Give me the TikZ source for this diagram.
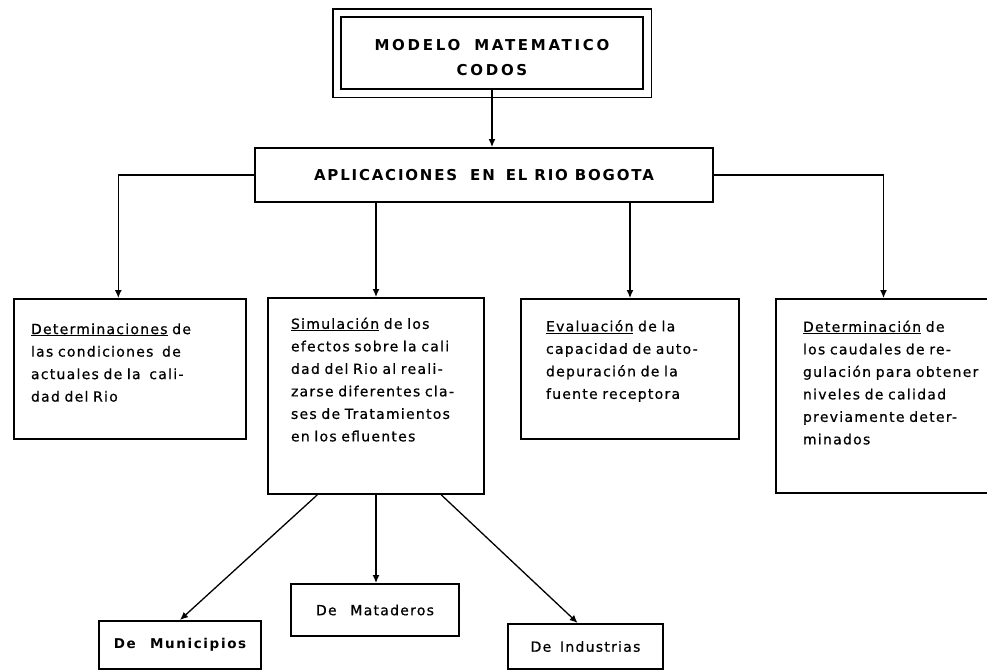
\documentclass[tikz,border=0pt]{standalone}
\usepackage{fontspec}
\setmainfont{DejaVu Sans}
\newfontfamily\hand[LetterSpace=9,FakeBold=0.6]{DejaVu Sans}
\newfontfamily\handa[LetterSpace=12]{DejaVu Sans}
\newfontfamily\handt[LetterSpace=18]{DejaVu Sans}
\usetikzlibrary{arrows.meta,calc}
\begin{document}
\begin{tikzpicture}[x=1pt,y=-1pt,
  box/.style={draw, line width=2pt, rectangle, inner sep=0pt},
  txtbox/.style={box, anchor=north west, align=left, inner xsep=#1,
    font=\hand\fontsize{14}{22.5}\selectfont},
  smallbox/.style={box, anchor=north west, font=\hand\fontsize{14}{16}\selectfont},
  con/.style={line width=1.3pt},
  arr/.style={con, -{Latex[length=8pt,width=7pt]}}]
\clip (0,0) rectangle (987,670);

% title
\node[draw, line width=2.8pt, minimum width=302pt, minimum height=72pt, align=center,
  font=\handt\bfseries\fontsize{15}{25}\selectfont] (title) at (492,53)
  {\raisebox{-5pt}[\height][\depth]{MODELO\hspace{14pt}MATEMATICO}\\
   \raisebox{-5pt}[\height][\depth]{CODOS}};
\draw[line width=1.8pt] ($(title.north west)+(-7,-7)$) rectangle ($(title.south east)+(7,7)$);

% applications
\node[box, minimum width=458pt, minimum height=54pt,
  font=\handa\bfseries\fontsize{15}{17}\selectfont] (app) at (484,175)
  {APLICACIONES\hspace{6pt} EN\hspace{4pt} EL RIO BOGOTA};

% four boxes
\node[txtbox=17pt, text width=198pt, minimum height=140pt] (b1) at (13,298)
  {\mbox{\underline{Determinaciones} de}\\
   \mbox{las condiciones\hspace{4pt} de}\\
   \mbox{actuales de la\hspace{4pt} cali-}\\
   \mbox{dad del Rio\rule[-13pt]{0pt}{0pt}}};
\node[txtbox=23pt, text width=170pt, minimum height=196pt] (b2) at (267,297)
  {\mbox{\underline{Simulación} de los}\\
   \mbox{efectos sobre la cali}\\
   \mbox{dad del Rio al reali-}\\
   \mbox{zarse diferentes cla-}\\
   \mbox{ses de Tratamientos}\\
   \mbox{en los efluentes\rule[-33pt]{0pt}{0pt}}};
\node[txtbox=25pt, text width=168pt, minimum height=140pt] (b3) at (520,298)
  {\mbox{\underline{Evaluación} de la}\\
   \mbox{capacidad de auto-}\\
   \mbox{depuración de la}\\
   \mbox{fuente receptora\rule[-19pt]{0pt}{0pt}}};
\node[txtbox=27pt, text width=161pt, minimum height=194pt] (b4) at (775,298)
  {\mbox{\underline{Determinación} de}\\
   \mbox{los caudales de re-}\\
   \mbox{gulación para obtener}\\
   \mbox{niveles de calidad}\\
   \mbox{previamente deter-}\\
   \mbox{minados\rule[-27pt]{0pt}{0pt}}};

% bottom boxes
\node[smallbox, minimum width=162pt, minimum height=48pt,
  font=\handa\bfseries\fontsize{13.5}{16}\selectfont] (mun) at (98,620) {De\hspace{8pt} Municipios};
\node[smallbox, minimum width=168pt, minimum height=52pt] (mat) at (290,583) {De\hspace{8pt} Mataderos};
\node[smallbox, minimum width=155pt, minimum height=45pt] (ind) at (507,623) {De\hspace{3pt} Industrias};

% connectors
\draw[arr] (title.south) -- (title.south |- app.north);
\draw[arr] (app.west) -| ($(b1.north west)!0.45!(b1.north east)$);
\draw[arr] (app.east) -| (b4.north);
\draw[arr] (app.south -| b2.north) -- (b2.north);
\draw[arr] (app.south -| b3.north) -- (b3.north);
\draw[arr] ($(b2.south west)!0.23!(b2.south east)$) -- (mun.north);
\draw[arr] (b2.south) -- (b2.south |- mat.north);
\draw[arr] ($(b2.south west)!0.8!(b2.south east)$) -- ($(ind.north west)!0.45!(ind.north east)$);
\end{tikzpicture}
\end{document}
